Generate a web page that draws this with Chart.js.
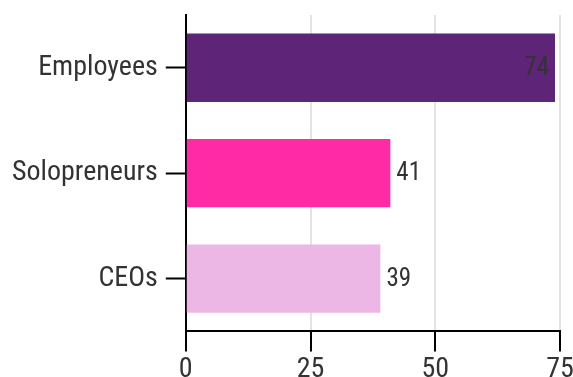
<!DOCTYPE html>
<html>
<head>
<meta charset="utf-8">
<script src="https://cdn.jsdelivr.net/npm/chart.js@4"></script>
<style>
  html, body { margin: 0; padding: 0; background: #fff; }
  #wrap { width: 573px; height: 377px; }
</style>
</head>
<body>
<div id="wrap"><canvas id="myChart"></canvas></div>
<script>
// chart data
const categories = ['Employees', 'Solopreneurs', 'CEOs'];
const values = [74, 41, 39];
const barColors = ['#5e2478', '#ff2ba4', '#ecb7e4'];
const xTicks = [0, 25, 50, 75];

const fontFamily = "'Roboto Condensed', Roboto, sans-serif";

// value labels at the end of each bar (inside if it would not fit)
const valueLabels = {
  id: 'valueLabels',
  afterDatasetsDraw(chart) {
    const ctx = chart.ctx;
    const meta = chart.getDatasetMeta(0);
    ctx.save();
    ctx.font = '25px ' + fontFamily;
    ctx.fillStyle = '#333333';
    ctx.textBaseline = 'middle';
    meta.data.forEach(function (bar, i) {
      const text = String(values[i]);
      const w = ctx.measureText(text).width;
      if (bar.x + 6 + w > chart.chartArea.right) {
        ctx.textAlign = 'right';
        ctx.fillText(text, bar.x - 6, bar.y + 1);
      } else {
        ctx.textAlign = 'left';
        ctx.fillText(text, bar.x + 6, bar.y + 1);
      }
    });
    ctx.restore();
  }
};

const config = {
  type: 'bar',
  data: {
    labels: categories,
    datasets: [{
      data: values,
      backgroundColor: barColors,
      borderWidth: 0,
      categoryPercentage: 0.72,
      barPercentage: 0.9
    }]
  },
  options: {
    indexAxis: 'y',
    responsive: true,
    maintainAspectRatio: false,
    animation: false,
    layout: { padding: { top: 15, right: 0, left: 4, bottom: -12 } },
    plugins: {
      legend: { display: false },
      tooltip: { enabled: false }
    },
    scales: {
      x: {
        min: 0,
        max: 75,
        afterBuildTicks: function (scale) {
          scale.ticks = xTicks.map(function (v) { return { value: v }; });
        },
        afterFit: function (scale) {
          scale.paddingRight = 13;
        },
        border: { display: true, color: '#000', width: 2 },
        grid: {
          color: '#e3e3e3',
          lineWidth: 2,
          drawTicks: true,
          tickLength: 20,
          tickColor: '#000',
          tickWidth: 2
        },
        ticks: {
          color: '#333',
          font: { family: fontFamily, size: 28 },
          padding: 2
        }
      },
      y: {
        afterFit: function (scale) {
          // category labels sit inside their bands, no extra room needed
          scale.paddingTop = 0;
          scale.paddingBottom = 0;
        },
        border: { display: true, color: '#000', width: 2 },
        grid: {
          display: true,
          drawOnChartArea: false,
          tickLength: 20,
          tickColor: '#000',
          tickWidth: 2,
          offset: false
        },
        ticks: {
          color: '#333',
          font: { family: fontFamily, size: 28 },
          padding: 8
        }
      }
    }
  },
  plugins: [valueLabels]
};

var myChart = new Chart(document.getElementById('myChart'), config);
</script>
</body>
</html>
